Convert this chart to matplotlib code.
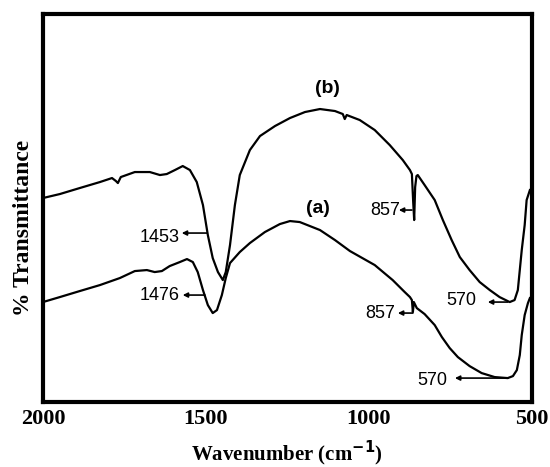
import matplotlib.pyplot as plt

# FTIR spectra, wavenumber (cm-1) vs transmittance (arbitrary units)
wn_b = [2000, 1948, 1887, 1825, 1788, 1776, 1770, 1761, 1718, 1672, 1641, 1620,
        1595, 1571, 1549, 1528, 1509, 1494, 1479, 1463, 1448, 1439, 1426, 1411,
        1396, 1365, 1334, 1288, 1242, 1196, 1150, 1104, 1080, 1074, 1068, 1028,
        982, 936, 896, 874, 868, 864, 861, 858, 854, 850, 829, 798, 773, 746,
        721, 691, 660, 629, 599, 568, 553, 543, 537, 531, 522, 516, 506]
tr_b = [204, 208, 214, 220, 224, 221, 219, 225, 230, 230, 227, 228,
        232, 236, 232, 220, 197, 167, 144, 130, 122, 130, 157, 197,
        227, 252, 266, 276, 284, 290, 293, 291, 288, 283, 287, 282,
        272, 257, 242, 232, 228, 200, 182, 215, 226, 227, 217, 202, 182, 162,
        145, 132, 120, 112, 105, 100, 102, 112, 132, 152, 177, 202, 212]

wn_a = [2000, 1948, 1887, 1825, 1764, 1718, 1681, 1657, 1635, 1611, 1580, 1558,
        1540, 1525, 1509, 1494, 1479, 1466, 1451, 1439, 1426, 1396, 1365, 1319,
        1273, 1242, 1212, 1150, 1104, 1058, 982, 927, 890, 874, 868, 865, 862,
        853, 829, 798, 776, 752, 727, 691, 654, 614, 574, 558, 546, 537, 531,
        522, 512, 506]
tr_a = [100, 105, 111, 117, 124, 131, 132, 130, 131, 136, 140, 143,
        140, 130, 112, 97, 89, 92, 107, 124, 139, 150, 159, 170,
        178, 181, 180, 172, 162, 151, 137, 122, 110, 105, 102, 90, 100,
        94, 88, 77, 65, 54, 45, 36, 29, 25, 24, 26, 32, 47, 67,
        87, 99, 104]

xticks = [2000, 1500, 1000, 500]

# peak labels: text, text x, text y, arrow head x, arrow tail x, arrow y
peaks = [
    ("1453", 1641, 165, 1574, 1497, 169),
    ("1476", 1641, 107, 1571, 1503, 107),
    ("857", 951, 192, 908, 868, 192),
    ("857", 966, 89, 911, 865, 89),
    ("570", 715, 102, 635, 574, 100),
    ("570", 804, 22, 736, 574, 24),
]

fig = plt.figure(figsize=(5.5, 4.67), dpi=100)
ax = fig.add_axes([0.078, 0.139, 0.889, 0.831])

ax.plot(wn_b, tr_b, color='black', lw=1.6)
ax.plot(wn_a, tr_a, color='black', lw=1.6)

for txt, tx, ty, hx, sx, ay in peaks:
    ax.text(tx, ty, txt, ha='center', va='center', fontsize=13,
            family='Liberation Sans')
    ax.annotate('', xy=(hx, ay), xytext=(sx, ay),
                arrowprops=dict(arrowstyle='-|>', color='black', lw=1.2,
                                mutation_scale=7, shrinkA=0, shrinkB=0))

ax.text(1126, 314, "(b)", ha='center', va='center', fontsize=14,
        fontweight='bold', family='Liberation Sans')
ax.text(1157, 194, "(a)", ha='center', va='center', fontsize=14,
        fontweight='bold', family='Liberation Sans')

ax.set_xlim(2000, 500)
ax.set_ylim(0, 388)
ax.set_xticks(xticks)
ax.set_xticklabels([str(t) for t in xticks], fontsize=16, fontweight='bold',
                   family='Liberation Serif')
ax.set_yticks([])
ax.tick_params(axis='x', length=0, pad=5)

for s in ax.spines.values():
    s.set_linewidth(3)

ax.set_xlabel(r"Wavenumber (cm$^{\mathbf{-1}}$)", fontsize=15, fontweight='bold',
              family='Liberation Serif')
ax.xaxis.set_label_coords(0.5, -0.095)
ax.set_ylabel("% Transmittance", fontsize=17, fontweight='bold',
              family='Liberation Serif')
ax.yaxis.set_label_coords(-0.018, 0.45)

fig.savefig('out.png', dpi=100)
